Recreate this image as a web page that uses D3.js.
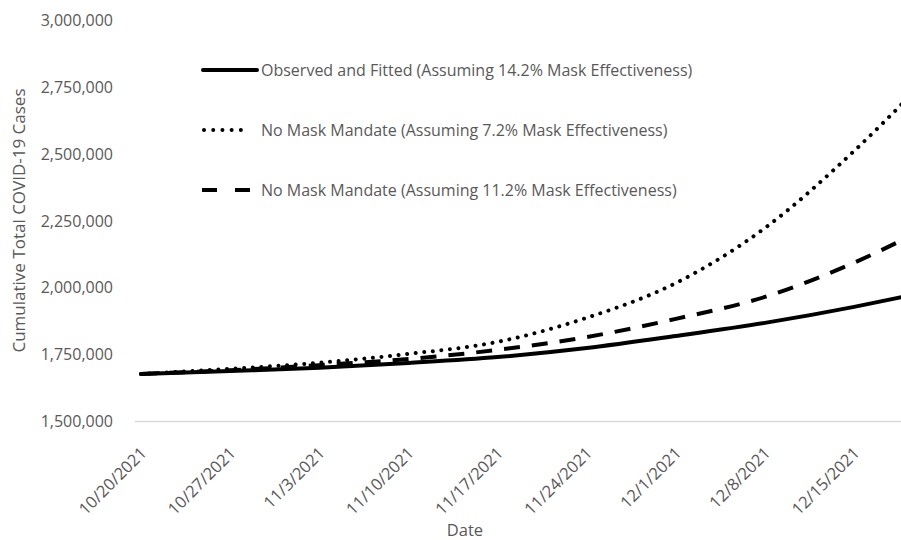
<!DOCTYPE html>
<html>
<head>
<meta charset="utf-8">
<script src="https://cdn.jsdelivr.net/npm/d3@7/dist/d3.min.js"></script>
<style>
  html, body { margin: 0; padding: 0; background: #ffffff; }
  svg { display: block; }
  text { font-family: "Open Sans", "Noto Sans", sans-serif; fill: #595959; }
</style>
</head>
<body>
<svg id="chart" width="901" height="540"></svg>
<script>
// ---- Data ----
const dayOffsets   = [0, 7, 14, 21, 28, 35, 42, 49, 56, 60];          // days since 10/20/2021
const observed     = [1676000, 1687000, 1699000, 1717000, 1739000, 1773000, 1818000, 1867000, 1927000, 1966000];
const noMask72     = [1676000, 1695000, 1718000, 1751000, 1796000, 1886000, 2016000, 2222000, 2510000, 2697000];
const noMask112    = [1676000, 1690000, 1709000, 1732000, 1766000, 1814000, 1882000, 1964000, 2092000, 2182000];
const tickDays     = [0, 7, 14, 21, 28, 35, 42, 49, 56];
const tickLabels   = ["10/20/2021", "10/27/2021", "11/3/2021", "11/10/2021", "11/17/2021",
                      "11/24/2021", "12/1/2021", "12/8/2021", "12/15/2021"];
const yTicks       = [1500000, 1750000, 2000000, 2250000, 2500000, 2750000, 3000000];
const seriesNames  = ["Observed and Fitted (Assuming 14.2% Mask Effectiveness)",
                      "No Mask Mandate (Assuming 7.2% Mask Effectiveness)",
                      "No Mask Mandate (Assuming 11.2% Mask Effectiveness)"];
const yTitle = "Cumulative Total COVID-19 Cases";
const xTitle = "Date";

// ---- Chart ----
const svg = d3.select("#chart");
const x = d3.scaleLinear().domain([0, 60]).range([141, 905]);
const y = d3.scaleLinear().domain([1500000, 3000000]).range([421, 20]);

const styles = [
  { dash: null, cap: "round" },
  { dash: "0.01,8.6", cap: "round" },
  { dash: "16,12", cap: "butt" }
];
const seriesValues = [observed, noMask72, noMask112];

// baseline
svg.append("line")
  .attr("x1", 135).attr("x2", 901)
  .attr("y1", y(1500000) + 0.5).attr("y2", y(1500000) + 0.5)
  .attr("stroke", "#d9d9d9").attr("stroke-width", 1.3);

// y axis (labels only)
const yAxis = d3.axisLeft(y).tickValues(yTicks).tickFormat(d3.format(",")).tickSize(0).tickPadding(0);
const gy = svg.append("g").attr("transform", "translate(113,0)").call(yAxis);
gy.select(".domain").remove();
gy.selectAll("text").style("font-size", "16px").attr("fill", "#595959").attr("dy", "0.35em");

// x axis (rotated labels)
const xAxis = d3.axisBottom(x).tickValues(tickDays).tickFormat((d, i) => tickLabels[i]).tickSize(0);
const gx = svg.append("g").attr("transform", "translate(0,421)").call(xAxis);
gx.select(".domain").remove();
gx.selectAll("text")
  .style("font-size", "16.5px")
  .attr("fill", "#595959")
  .attr("text-anchor", "end")
  .attr("dy", null)
  .attr("transform", "translate(4,31) rotate(-45)");

// axis titles
svg.append("text")
  .attr("transform", `translate(25,${(83 + 358) / 2}) rotate(-90)`)
  .attr("text-anchor", "middle")
  .style("font-size", "17px")
  .text(yTitle);
svg.append("text")
  .attr("x", 465).attr("y", 536)
  .attr("text-anchor", "middle")
  .style("font-size", "16.5px")
  .text(xTitle);

// lines
const line = d3.line().x(d => x(d[0])).y(d => y(d[1])).curve(d3.curveMonotoneX);
const drawOrder = [2, 1, 0];
drawOrder.forEach(i => {
  const pts = dayOffsets.map((d, k) => [d, seriesValues[i][k]]);
  svg.append("path")
    .datum(pts)
    .attr("d", line)
    .attr("fill", "none")
    .attr("stroke", "#000")
    .attr("stroke-width", 4)
    .attr("stroke-linecap", styles[i].cap)
    .attr("stroke-dasharray", styles[i].dash);
});

// legend
const legendY = [70, 130, 190];
seriesNames.forEach((name, i) => {
  const g = svg.append("g").attr("transform", `translate(0,${legendY[i]})`);
  if (i === 0) {
    g.append("line").attr("x1", 203).attr("x2", 257).attr("y1", 0).attr("y2", 0)
      .attr("stroke", "#000").attr("stroke-width", 4).attr("stroke-linecap", "round");
  } else if (i === 1) {
    g.append("line").attr("x1", 204).attr("x2", 250).attr("y1", 0).attr("y2", 0)
      .attr("stroke", "#000").attr("stroke-width", 4).attr("stroke-linecap", "round")
      .attr("stroke-dasharray", "0.01,9.2");
  } else {
    g.append("line").attr("x1", 202).attr("x2", 250).attr("y1", 0).attr("y2", 0)
      .attr("stroke", "#000").attr("stroke-width", 4)
      .attr("stroke-dasharray", "15,18");
  }
  g.append("text").attr("x", 261).attr("y", 0).attr("dy", "0.35em")
    .style("font-size", "16px").text(name);
});
</script>
</body>
</html>
